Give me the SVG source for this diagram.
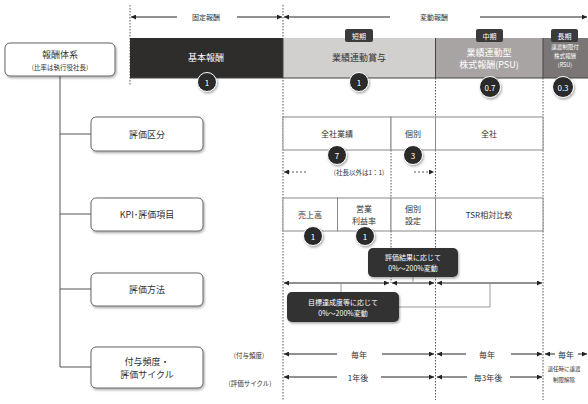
<svg xmlns="http://www.w3.org/2000/svg" width="588" height="404" viewBox="0 0 588 404">
<style>
text{font-family:"Noto Sans CJK JP","Noto Sans",sans-serif;fill:#333;text-anchor:middle;dominant-baseline:central}
.lbox{fill:#fff;stroke:#666;stroke-width:1}
.cell{fill:#fff;stroke:#888;stroke-width:1}
.dot{stroke:#555;stroke-width:1;stroke-dasharray:1.5 1.5;fill:none}
.arr{stroke:#222;stroke-width:1;fill:none;marker-end:url(#ah)}
.arr2{stroke:#222;stroke-width:1;fill:none;marker-start:url(#ah);marker-end:url(#ah)}
.darr{stroke:#333;stroke-width:0.8;stroke-dasharray:2 2;fill:none;marker-end:url(#ah)}
.conn{stroke:#555;stroke-width:1;fill:none}
.gconn{stroke:#999;stroke-width:1;fill:none}
.tag{fill:#3a3a3a}
.num{fill:#2b2b2b;stroke:#fff;stroke-width:1}
.wt{fill:#fff}
.f9{font-size:9px}
.f8{font-size:8px}
.f7{font-size:7px}
.f6{font-size:6.5px}
.f5{font-size:5.5px}
</style>
<defs>
<marker id="ah" viewBox="0 0 6 6" refX="6" refY="3" markerWidth="5" markerHeight="5" orient="auto-start-reverse" markerUnits="userSpaceOnUse"><path d="M0,0 L6,3 L0,6 z" fill="#222"/></marker>
<filter id="sh" x="-20%" y="-20%" width="150%" height="160%"><feDropShadow dx="1" dy="1.5" stdDeviation="1" flood-color="#000" flood-opacity="0.35"/></filter>
</defs>
<rect width="588" height="404" fill="#fff"/>

<!-- dotted guide lines -->
<g id="guides">
<line class="dot" x1="130" y1="5" x2="130" y2="86"/>
<line class="dot" x1="283" y1="5" x2="283" y2="400"/>
<line class="dot" x1="435.5" y1="78" x2="435.5" y2="400"/>
<line class="dot" x1="543" y1="78" x2="543" y2="400"/>
<line class="dot" x1="391" y1="150" x2="391" y2="198"/>
<line class="dot" x1="391" y1="231" x2="391" y2="283"/>
</g>

<!-- header arrows -->
<g id="header">
<line class="arr" x1="177" y1="17" x2="131" y2="17"/>
<line class="arr" x1="237" y1="17" x2="282" y2="17"/>
<text class="f7" x="206" y="17">固定報酬</text>
<line class="arr" x1="390" y1="17" x2="284" y2="17"/>
<line class="arr" x1="480" y1="17" x2="587" y2="17"/>
<text class="f7" x="434" y="17">変動報酬</text>
</g>

<!-- bars -->
<g id="bar-base">
<rect x="130" y="38" width="153" height="40" fill="#2f2c2c"/>
<text class="f9 wt" x="206" y="57">基本報酬</text>
</g>
<g id="bar-bonus">
<rect x="283" y="38" width="152.5" height="40" fill="#d2cfcf"/>
<text class="f9" x="359" y="57">業績連動賞与</text>
</g>
<g id="bar-psu">
<rect x="435.5" y="38" width="107.5" height="40" fill="#a9a4a4"/>
<text class="f9 wt" x="489" y="52">業績連動型</text>
<text class="f9 wt" x="489" y="64">株式報酬(PSU)</text>
</g>
<g id="bar-rsu">
<rect x="543" y="38" width="45" height="40" fill="#7b7676"/>
<text class="f5 wt" x="565" y="47">譲渡制限付</text>
<text class="f5 wt" x="565" y="56">株式報酬</text>
<text class="f5 wt" x="565" y="65">(RSU)</text>
</g>
<line x1="130" y1="78" x2="588" y2="78" stroke="#444" stroke-width="1"/>
<line x1="283" y1="38" x2="283" y2="78" stroke="#444" stroke-width="1"/>
<line x1="435.5" y1="38" x2="435.5" y2="78" stroke="#444" stroke-width="1"/>
<line x1="543" y1="38" x2="543" y2="78" stroke="#444" stroke-width="1"/>

<g id="tags">
<rect class="tag" x="345" y="29" width="28" height="13" rx="2"/>
<text class="f7 wt" x="359" y="35.5">短期</text>
<rect class="tag" x="476" y="29" width="27" height="13" rx="2"/>
<text class="f7 wt" x="489.5" y="35.5">中期</text>
<rect class="tag" x="551" y="29" width="27" height="13" rx="2"/>
<text class="f7 wt" x="564.5" y="35.5">長期</text>
</g>

<g id="ratios" filter="url(#sh)">
<circle class="num" cx="207" cy="82" r="9.5"/>
<circle class="num" cx="359" cy="82" r="9.5"/>
<circle class="num" cx="490" cy="87" r="10.5"/>
<circle class="num" cx="563" cy="87" r="10.5"/>
</g>
<g id="ratio-text">
<text class="f8 wt" x="207" y="82">1</text>
<text class="f8 wt" x="359" y="82">1</text>
<text class="f8 wt" x="490" y="87">0.7</text>
<text class="f8 wt" x="563" y="87">0.3</text>
</g>

<!-- left tree -->
<g id="tree">
<path class="conn" d="M60,76 V367"/>
<path class="conn" d="M60,134 H91 M60,214 H91 M60,289 H91 M60,367 H91"/>
</g>
<g id="n-system" filter="url(#sh)">
<rect class="lbox" x="5" y="43" width="110" height="33" rx="5"/>
</g>
<text class="f9" x="60" y="54.5">報酬体系</text>
<text class="f6" x="60" y="66.5">(比率は執行役社長)</text>

<g id="n-kubun">
<rect class="lbox" x="91" y="117" width="112" height="34" rx="5" filter="url(#sh)"/>
<text class="f9" x="147" y="134">評価区分</text>
</g>
<g id="n-kpi">
<rect class="lbox" x="91" y="198" width="112" height="33" rx="5" filter="url(#sh)"/>
<text class="f9" x="147" y="214.5">KPI･評価項目</text>
</g>
<g id="n-method">
<rect class="lbox" x="91" y="273" width="112" height="33" rx="5" filter="url(#sh)"/>
<text class="f9" x="147" y="289.5">評価方法</text>
</g>
<g id="n-cycle">
<rect class="lbox" x="91" y="347" width="112" height="41" rx="5" filter="url(#sh)"/>
<text class="f9" x="147" y="361">付与頻度・</text>
<text class="f9" x="147" y="374">評価サイクル</text>
</g>

<!-- row 1 -->
<g id="row-kubun">
<rect class="cell" x="283" y="117" width="108" height="33"/>
<rect class="cell" x="391" y="117" width="44.5" height="33"/>
<rect class="cell" x="435.5" y="117" width="107.5" height="33"/>
<text class="f8" x="337" y="133.5">全社業績</text>
<text class="f8" x="413" y="133.5">個別</text>
<text class="f8" x="489" y="133.5">全社</text>
<circle class="num" cx="337" cy="155" r="9.5" filter="url(#sh)"/>
<circle class="num" cx="413" cy="155" r="9.5" filter="url(#sh)"/>
<text class="f8 wt" x="337" y="155">7</text>
<text class="f8 wt" x="413" y="155">3</text>
<line class="darr" x1="306" y1="172" x2="284" y2="172"/>
<line class="darr" x1="414" y1="172" x2="434" y2="172"/>
<text class="f6" x="359" y="172">(社長以外は1：1)</text>
</g>

<!-- row 2 -->
<g id="row-kpi">
<rect class="cell" x="283" y="198" width="54.5" height="33"/>
<rect class="cell" x="337.5" y="198" width="53.5" height="33"/>
<rect class="cell" x="391" y="198" width="44.5" height="33"/>
<rect class="cell" x="435.5" y="198" width="107.5" height="33"/>
<text class="f8" x="310" y="214.5">売上高</text>
<text class="f8" x="364" y="208">営業</text>
<text class="f8" x="364" y="220">利益率</text>
<text class="f8" x="413" y="208">個別</text>
<text class="f8" x="413" y="220">設定</text>
<text class="f8" x="489" y="214.5">TSR相対比較</text>
<circle class="num" cx="313" cy="236" r="9.5" filter="url(#sh)"/>
<circle class="num" cx="365" cy="236" r="9.5" filter="url(#sh)"/>
<text class="f8 wt" x="313" y="236">1</text>
<text class="f8 wt" x="365" y="236">1</text>
</g>

<!-- evaluation method -->
<g id="connectors">
<line class="arr2" x1="284" y1="283" x2="389" y2="283"/>
<line class="arr2" x1="392" y1="283" x2="434" y2="283"/>
<line class="arr2" x1="437" y1="283" x2="542" y2="283"/>
<path class="gconn" d="M413,277 V283"/>
<path class="gconn" d="M341,283 V292"/>
<path class="gconn" d="M399,307 H490 V283"/>
</g>
<g id="n-result">
<rect x="368" y="248" width="90" height="29" rx="5" fill="#333" filter="url(#sh)"/>
<text class="f7 wt" x="413" y="257">評価結果に応じて</text>
<text class="f7 wt" x="413" y="268">0%～200%変動</text>
</g>
<g id="n-target">
<rect x="287" y="292" width="112" height="30" rx="5" fill="#333" filter="url(#sh)"/>
<text class="f7 wt" x="343" y="301.5">目標達成度等に応じて</text>
<text class="f7 wt" x="343" y="312.5">0%～200%変動</text>
</g>

<!-- frequency / cycle -->
<g id="cycle-rows">
<text class="f6" x="249" y="355">(付与頻度)</text>
<text class="f6" x="250" y="383">(評価サイクル)</text>
<line class="arr" x1="337" y1="354" x2="284" y2="354"/>
<line class="arr" x1="382" y1="354" x2="434" y2="354"/>
<text class="f8" x="359" y="354">毎年</text>
<line class="arr" x1="466" y1="354" x2="437" y2="354"/>
<line class="arr" x1="511" y1="354" x2="542" y2="354"/>
<text class="f8" x="487" y="354">毎年</text>
<line class="arr" x1="555" y1="354" x2="545" y2="354"/>
<line class="arr" x1="578" y1="354" x2="587" y2="354"/>
<text class="f8" x="566" y="354">毎年</text>

<line class="arr" x1="337" y1="377" x2="284" y2="377"/>
<line class="arr" x1="381" y1="377" x2="434" y2="377"/>
<text class="f8" x="358" y="377">1年後</text>
<line class="arr" x1="467" y1="377" x2="437" y2="377"/>
<line class="arr" x1="510" y1="377" x2="542" y2="377"/>
<text class="f8" x="488" y="377">毎3年後</text>
<text class="f5" x="564" y="369">退任時に譲渡</text>
<text class="f5" x="564" y="380">制限解除</text>
</g>
</svg>
